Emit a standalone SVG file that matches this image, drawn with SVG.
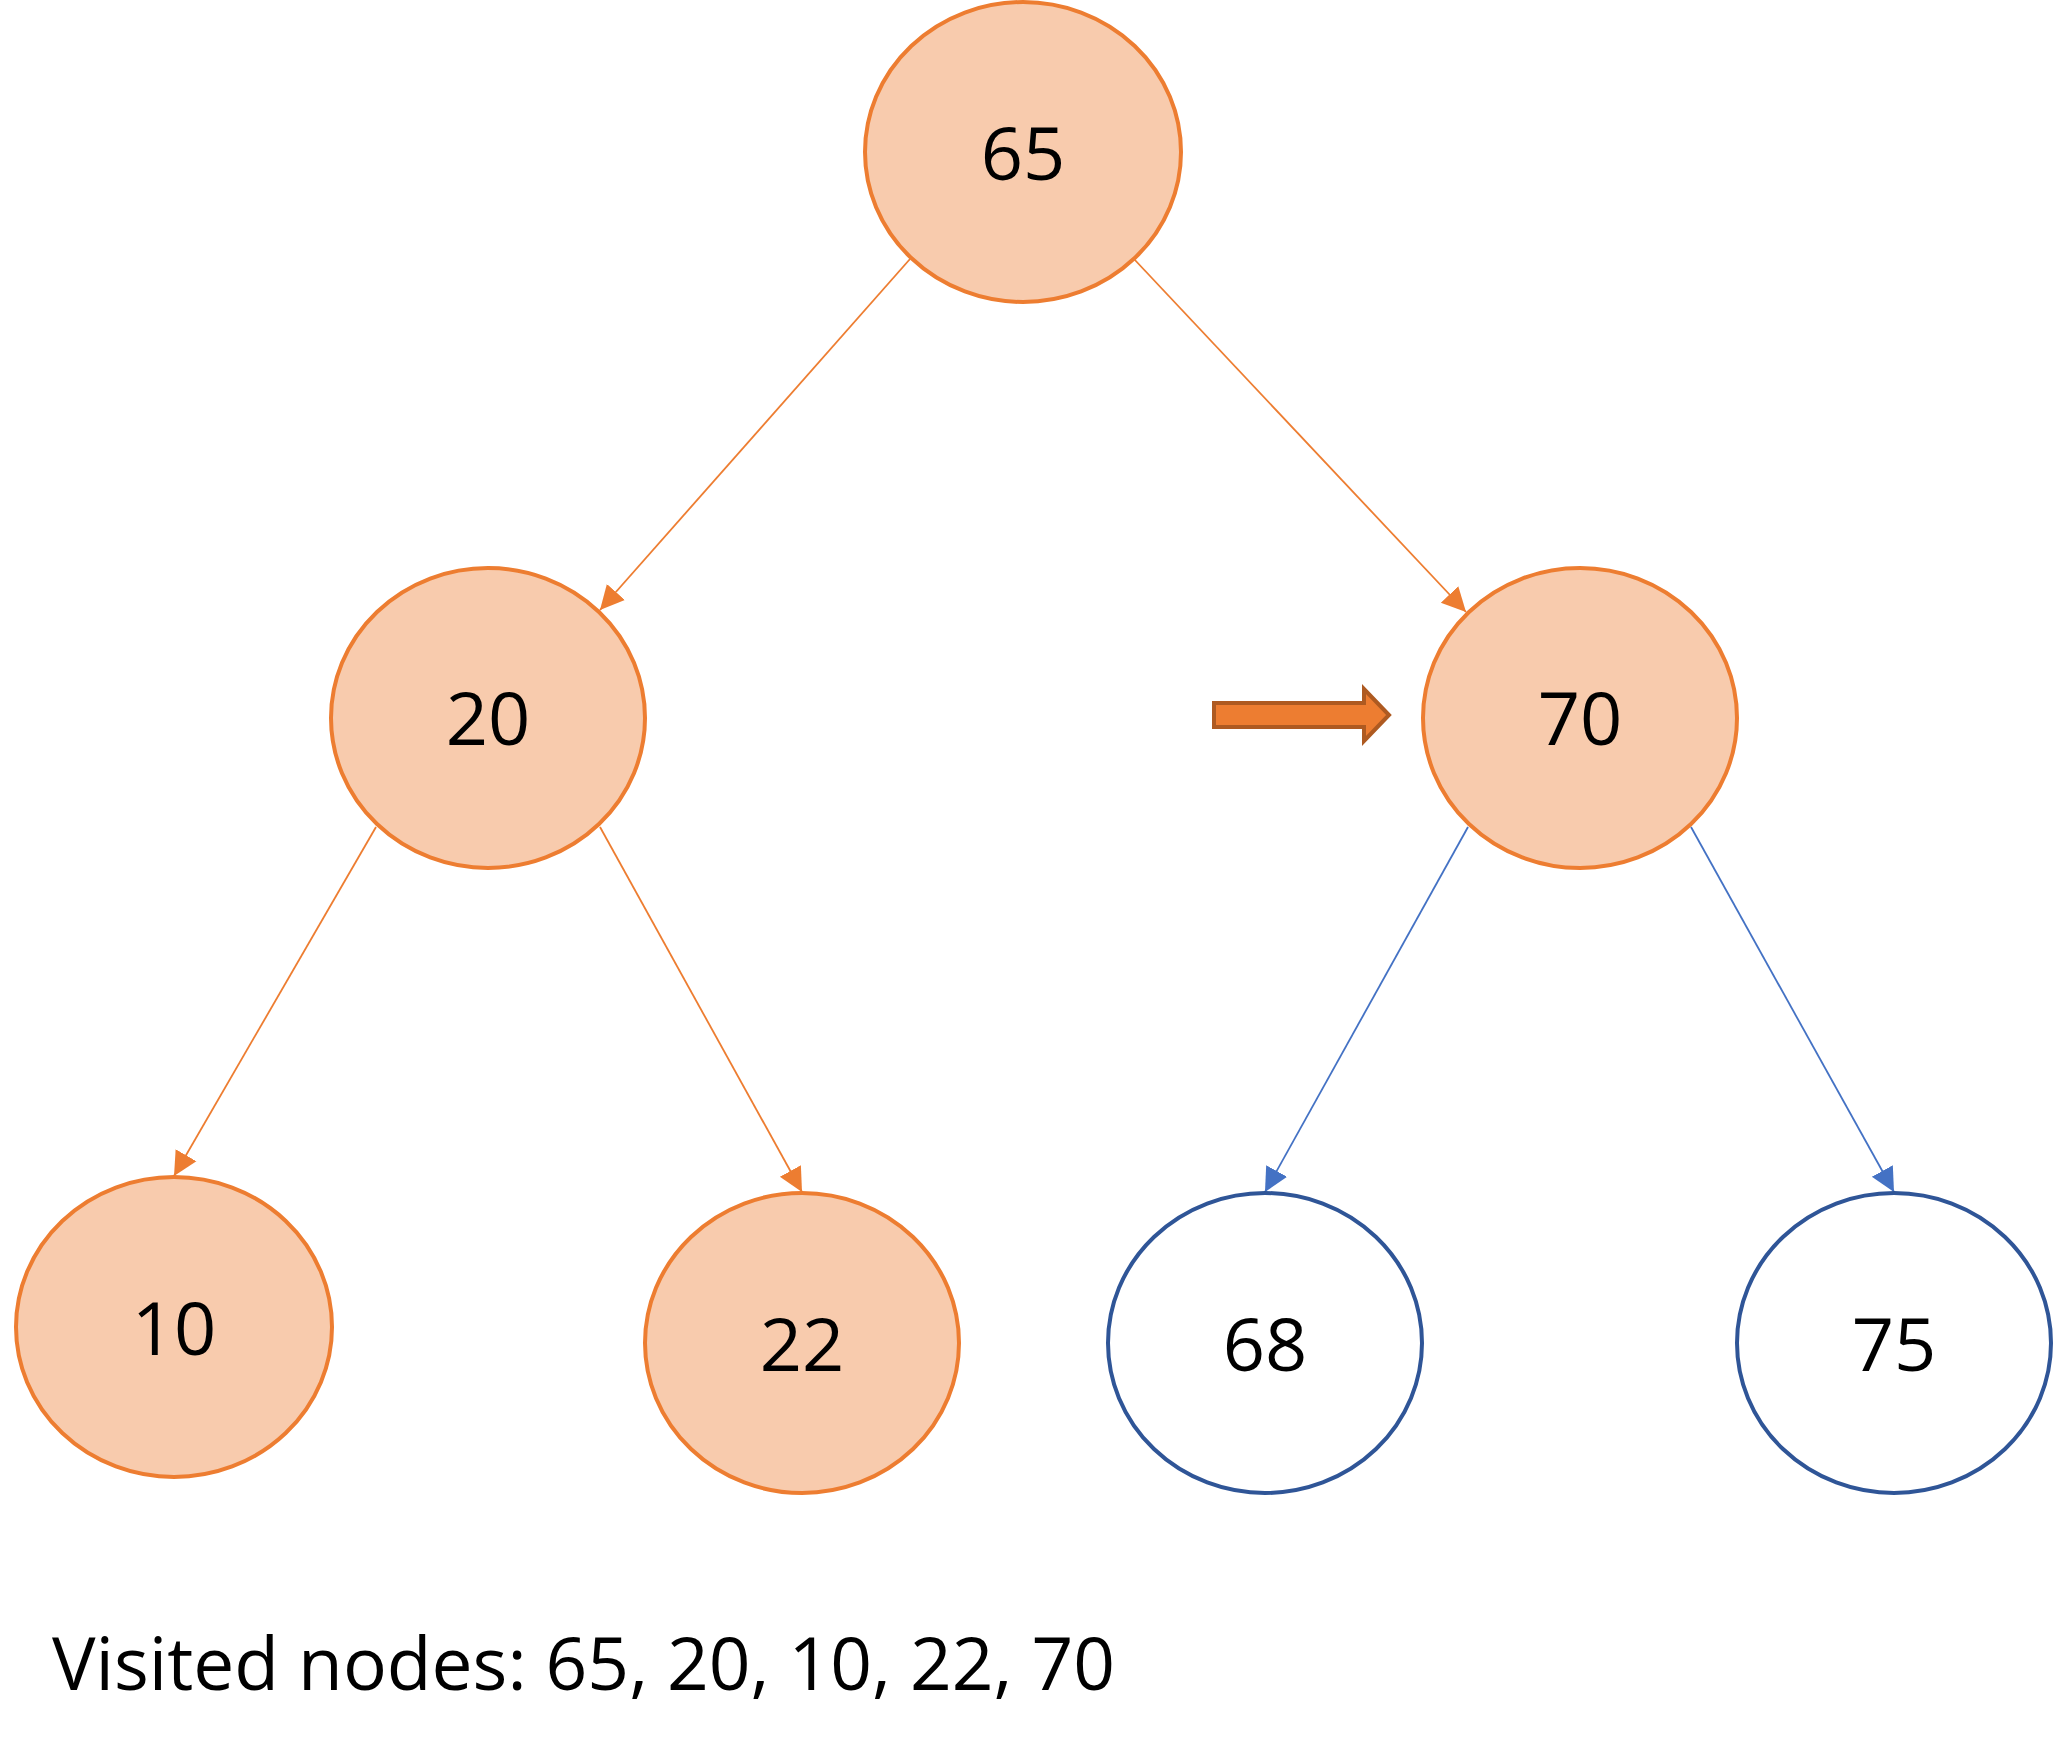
<svg xmlns="http://www.w3.org/2000/svg" width="2054" height="1764" viewBox="0 0 2054 1764">
<style>
.visited ellipse{fill:#F8CBAD;stroke:#ED7D31;stroke-width:4}
.pending ellipse{fill:#FFFFFF;stroke:#2F5597;stroke-width:4}
.lbl{font-family:"Open Sans","Liberation Sans",sans-serif;font-size:74px;fill:#000;text-anchor:middle}
.eo{stroke:#ED7D31;stroke-width:1.8;fill:none}
.eb{stroke:#4472C4;stroke-width:1.8;fill:none}
</style>
<defs>
<marker id="ao" viewBox="0 0 10 10" refX="10" refY="5" markerWidth="24" markerHeight="26" markerUnits="userSpaceOnUse" orient="auto"><path d="M0,0 L10,5 L0,10 Z" fill="#ED7D31"/></marker>
<marker id="ab" viewBox="0 0 10 10" refX="10" refY="5" markerWidth="24" markerHeight="26" markerUnits="userSpaceOnUse" orient="auto"><path d="M0,0 L10,5 L0,10 Z" fill="#4472C4"/></marker>
</defs>
<rect width="2054" height="1764" fill="#FFFFFF"/>
<g id="connectors">
<line class="eo" x1="910" y1="259" x2="600" y2="610" marker-end="url(#ao)"/>
<line class="eo" x1="1134" y1="259" x2="1466" y2="612" marker-end="url(#ao)"/>
<line class="eo" x1="376" y1="827" x2="174" y2="1176" marker-end="url(#ao)"/>
<line class="eo" x1="600" y1="827" x2="802" y2="1192" marker-end="url(#ao)"/>
<line class="eb" x1="1468" y1="827" x2="1265" y2="1192" marker-end="url(#ab)"/>
<line class="eb" x1="1691" y1="827" x2="1894" y2="1192" marker-end="url(#ab)"/>
</g>
<g id="node-65" class="visited"><ellipse cx="1023" cy="152" rx="158" ry="150"/><text class="lbl" x="1023" y="180">65</text></g>
<g id="node-20" class="visited"><ellipse cx="488" cy="718" rx="157" ry="150"/><text class="lbl" x="488" y="745">20</text></g>
<g id="node-70" class="visited"><ellipse cx="1580" cy="718" rx="157" ry="150"/><text class="lbl" x="1580" y="745">70</text></g>
<g id="node-10" class="visited"><ellipse cx="174" cy="1327" rx="158" ry="150"/><text class="lbl" x="174" y="1355">10</text></g>
<g id="node-22" class="visited"><ellipse cx="802" cy="1343" rx="157" ry="150"/><text class="lbl" x="802" y="1371">22</text></g>
<g id="node-68" class="pending"><ellipse cx="1265" cy="1343" rx="157" ry="150"/><text class="lbl" x="1265" y="1371">68</text></g>
<g id="node-75" class="pending"><ellipse cx="1894" cy="1343" rx="157" ry="150"/><text class="lbl" x="1894" y="1371">75</text></g>
<g id="pointer"><path d="M1214,703 H1364 V689 L1389,715 L1364,741 V727 H1214 Z" fill="#ED7D31" stroke="#AE5A21" stroke-width="4" stroke-linejoin="miter"/></g>
<g id="caption"><text x="52" y="1690" font-family="Open Sans, Liberation Sans, sans-serif" font-size="74" fill="#000" textLength="1063" lengthAdjust="spacingAndGlyphs">Visited nodes: 65, 20, 10, 22, 70</text></g>
</svg>
